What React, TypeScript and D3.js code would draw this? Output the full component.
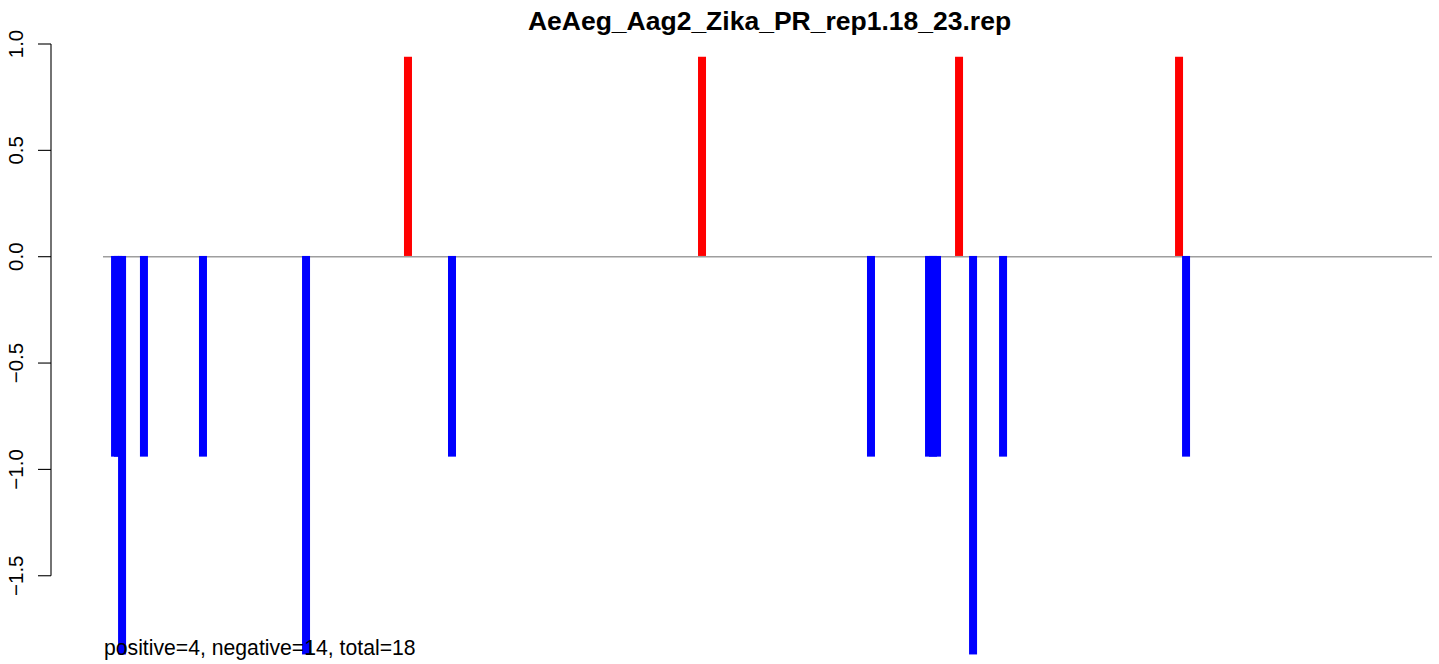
import React from "react";
import * as d3 from "d3";

const title = "AeAeg_Aag2_Zika_PR_rep1.18_23.rep";
const footnote = "positive=4, negative=14, total=18";
const genomeLength = 10807;
const positions = [98, 122, 155, 333, 813, 1651, 2480, 2838, 4871, 6245, 6717, 6749, 6782, 6961, 7075, 7319, 8750, 8807];
const values = [-0.94, -0.94, -1.87, -0.94, -0.94, -1.87, 0.94, -0.94, 0.94, -0.94, -0.94, -0.94, -0.94, 0.94, -1.87, -0.94, 0.94, -0.94];
const yTicks = [-1.5, -1.0, -0.5, 0.0, 0.5, 1.0];

const W = 1439;
const H = 664;

export default function App() {
  const x = d3.scaleLinear().domain([0, genomeLength]).range([103, 1432]);
  const y = d3.scaleLinear().domain([0, 1]).range([256.7, 44]);
  const barW = 8;
  const font = "'Liberation Sans', Arial, Helvetica, sans-serif";
  return (
    <svg width={W} height={H} style={{ position: "absolute", left: 0, top: 0, background: "#fff" }}>
      <rect x={0} y={0} width={W} height={H} fill="#fff" />
      <text x={769.5} y={30} textAnchor="middle" fontFamily={font} fontWeight="bold" fontSize={26.5} fill="#000">
        {title}
      </text>
      {/* y axis */}
      <line x1={51} x2={51} y1={y(1)} y2={y(-1.5)} stroke="#000" strokeWidth={1.1} />
      {yTicks.map((t) => (
        <g key={t}>
          <line x1={38} x2={51} y1={y(t)} y2={y(t)} stroke="#000" strokeWidth={1.1} />
          <text
            transform={`translate(23,${y(t)}) rotate(-90)`}
            textAnchor="middle"
            fontFamily={font}
            fontSize={20.5}
            fill="#000"
          >
            {d3.format(".1f")(t).replace("-", "\u2212")}
          </text>
        </g>
      ))}
      {/* zero line */}
      <line x1={x(0)} x2={x(genomeLength)} y1={y(0)} y2={y(0)} stroke="#9e9e9e" strokeWidth={1.5} />
      {positions.map((p, i) => {
        const v = values[i];
        const y0 = y(Math.max(0, v));
        const y1 = y(Math.min(0, v));
        return (
          <rect
            key={i}
            x={x(p) - barW / 2}
            y={v > 0 ? y0 : y(0) - 0.75}
            width={barW}
            height={v > 0 ? y1 - y0 - 0.75 : y1 - y(0) + 0.75}
            fill={v > 0 ? "#ff0000" : "#0000ff"}
          />
        );
      })}
      <text x={104} y={655} fontFamily={font} fontSize={21.2} fill="#000">
        {footnote}
      </text>
    </svg>
  );
}
